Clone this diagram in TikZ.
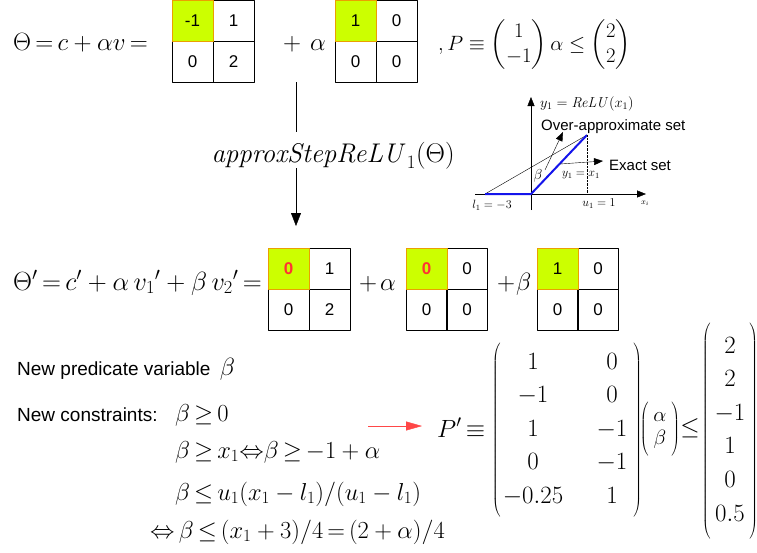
\RequirePackage{fix-cm}
\documentclass[tikz,border=0pt]{standalone}
\usepackage{amsmath,amssymb}
\usepackage[no-math]{fontspec}
\setsansfont{Liberation Sans}
\usepackage{tikz}
\usetikzlibrary{arrows.meta,matrix,positioning}

\definecolor{cellhi}{RGB}{204,255,0}
\definecolor{cellrim}{RGB}{235,160,0}
\definecolor{zerored}{RGB}{255,51,51}
\definecolor{relublue}{RGB}{20,20,235}

\begin{document}
\begin{tikzpicture}[x=1pt, y=-1pt, >={Triangle[width=10pt,length=13pt]}, line join=round,
  cell/.style={draw, minimum size=41pt, inner sep=0pt, font=\sffamily\fontsize{17}{20}\selectfont},
  hicell/.style={cell, fill=cellhi, draw=cellrim},
  redzero/.style={text=zerored, font=\sffamily\bfseries\fontsize{17}{20}\selectfont},
  eq/.style={inner sep=0pt, anchor=base west, font=\fontsize{24.5}{29}\selectfont,
    execute at begin node={\thickmuskip=3mu\relax}},
  bigeq/.style={eq, font=\fontsize{25}{30}\selectfont},
  note/.style={inner sep=0pt, anchor=base west, font=\sffamily\fontsize{19}{22}\selectfont},
  tag/.style={inner sep=0pt, font=\sffamily\fontsize{15}{18}\selectfont},
  axis/.style={-{Triangle[width=7pt,length=9pt]}},
  colvec/.style={matrix of math nodes, left delimiter=(, right delimiter=), inner sep=0pt,
    nodes={inner sep=0pt, text height=17pt, text depth=5pt, font=\fontsize{24.9}{29}\selectfont}}]
  \useasboundingbox (0,0) rectangle (757,552);

  % top line: Theta = c + alpha v
  \node[bigeq] (theta) at (13,50) {$\Theta=c+\alpha v=$};
  \node[cell] (a12) at (233.5,20.5) {1};
  \node[cell] (a21) at (192.5,61.5) {0};
  \node[cell] (a22) at (233.5,61.5) {2};
  \node[hicell] (a11) at (192.5,20.5) {-1};
  \node[bigeq] (plusA) at (283,50) {$+$};
  \node[bigeq] (alphaA) at (310,50) {$\alpha$};
  \node[cell] (b12) at (396.5,20.5) {0};
  \node[cell] (b21) at (355.5,61.5) {0};
  \node[cell] (b22) at (396.5,61.5) {0};
  \node[hicell] (b11) at (355.5,20.5) {1};
  \node[eq, font=\fontsize{20.7}{25}\selectfont] (pdef) at (438,50) {$\thickmuskip=5mu\relax ,P\equiv\begin{pmatrix}1\\-1\end{pmatrix}\alpha\leq\begin{pmatrix}2\\2\end{pmatrix}$};

  % step relu
  \coordinate (dropTop) at (296,82);
  \coordinate (dropEnd) at (296,226);
  \node[inner sep=0pt, anchor=base, text height=30pt, text depth=6pt,
    font=\fontsize{27}{32}\selectfont] (step) at (333,162) {$\mathit{approxStepReLU}_1(\Theta)$};
  \draw (dropTop) -- (dropTop |- step.north);
  \draw[->] (dropTop |- step.south) -- (dropEnd);

  % relu sketch
  \coordinate (orig) at (531,194);
  \coordinate (lowX) at (485,194);
  \coordinate (upX) at (587,135);
  \draw[axis] (531,210) -- (531,97);
  \draw[axis] (475,194) -- (646,194);
  \draw (lowX) -- (upX);
  \draw[relublue, line width=2pt] (lowX) -- (orig) -- (upX);
  \draw[densely dotted] (upX) -- (upX |- orig);
  \draw[axis] (545,170) -- (563,132);
  \draw[axis] (560,164) -- (603,161);
  \node[inner sep=0pt, anchor=west, font=\fontsize{14.4}{16}\selectfont] (ylab) at (540,104) {$y_1=\mathit{ReLU}(x_1)$};
  \node[tag, anchor=west] (overset) at (541,127) {Over-approximate set};
  \node[tag, anchor=west] (exactset) at (609,165) {Exact set};
  \node[inner sep=0pt, font=\fontsize{14.4}{17}\selectfont] (betaG) at (538,176) {$\beta$};
  \node[inner sep=0pt, font=\fontsize{12}{14}\selectfont] (ident) at (581,175) {$y_1=x_1$};
  \node[inner sep=0pt, font=\fontsize{12}{14}\selectfont] (lowlab) at (492,205) {$l_1=-3$};
  \node[inner sep=0pt, font=\fontsize{12}{14}\selectfont] (uplab) at (599,204) {$u_1=1$};
  \node[inner sep=0pt, font=\fontsize{8}{9}\selectfont] (xlab) at (645,203) {$x_i$};

  % second line: Theta'
  \node[eq, font=\fontsize{26.3}{31}\selectfont] (thetanew) at (13,290) {$\Theta'=c'+\alpha\;v_1{}'+\beta\;v_2{}'=$};
  \node[cell] (c12) at (329.5,268.5) {1};
  \node[cell] (c21) at (288.5,309.5) {0};
  \node[cell] (c22) at (329.5,309.5) {2};
  \node[hicell, redzero] (c11) at (288.5,268.5) {0};
  \node[bigeq] (plusB) at (359,290) {$+$};
  \node[bigeq] (alphaB) at (380,290) {$\alpha$};
  \node[cell] (d12) at (467,268.5) {0};
  \node[cell] (d21) at (426.5,309.5) {0};
  \node[cell] (d22) at (467,309.5) {0};
  \node[hicell, redzero] (d11) at (426.5,268.5) {0};
  \node[bigeq] (plusC) at (497,290) {$+$};
  \node[bigeq] (betaC) at (516,290) {$\beta$};
  \node[cell] (e12) at (598,268.5) {0};
  \node[cell] (e21) at (557.5,309.5) {0};
  \node[cell] (e22) at (598,309.5) {0};
  \node[hicell] (e11) at (557.5,268.5) {1};

  % new variable and constraints
  \node[note] (predvar) at (17,375) {New predicate variable {\fontsize{24.9}{29}\selectfont\,$\beta$}};
  \node[note] (newcons) at (17,421) {New constraints:};
  \node[eq] (cons1) at (175,421) {$\beta\geq0$};
  \node[eq] (cons2) at (175,458) {$\beta\geq x_1\!\Leftrightarrow\!\beta\geq-1+\alpha$};
  \node[eq] (cons3) at (175,500) {$\beta\leq u_1(x_1-l_1)/(u_1-l_1)$};
  \node[eq] (cons4) at (150,538) {$\Leftrightarrow\beta\leq(x_1+3)/4=(2+\alpha)/4$};

  % new predicate
  \coordinate (redFrom) at (368,426);
  \coordinate (redTo) at (422,426);
  \draw[zerored!90, -{Triangle[width=9pt,length=16pt]}] (redFrom) -- (redTo);
  \node[eq, font=\fontsize{24.9}{29}\selectfont] (pnew) at (437,437) {$P'\equiv$};
  \matrix (amat) [colvec, inner ysep=11pt, column sep=28pt, row sep=11.5pt,
    column 1/.style={nodes={minimum width=62pt}},
    column 2/.style={nodes={minimum width=40pt}}] at (567,430) {
    1 & 0 \\
    -1 & 0 \\
    1 & -1 \\
    0 & -1 \\
    -0.25 & 1 \\
  };
  \matrix (xvec) [colvec, inner ysep=8pt, row sep=5pt,
    nodes={text height=13pt, text depth=5pt, font=\fontsize{20.7}{23}\selectfont, minimum width=20pt}] at (660,429) {
    \alpha \\
    \beta \\
  };
  \node[inner sep=0pt, font=\fontsize{24.9}{29}\selectfont] (leq) at (690,428) {$\leq$};
  \matrix (bvec) [colvec, inner ysep=13pt, row sep=11.6pt,
    nodes={minimum width=36pt}] at (730,431) {
    2 \\
    2 \\
    -1 \\
    1 \\
    0 \\
    0.5 \\
  };
\end{tikzpicture}
\end{document}
